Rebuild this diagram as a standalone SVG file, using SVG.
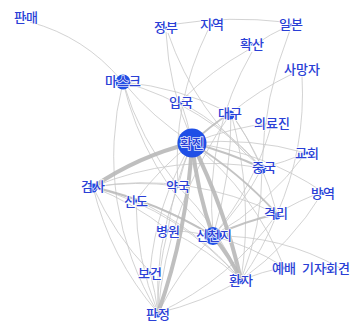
<svg xmlns="http://www.w3.org/2000/svg" width="353" height="327" viewBox="0 0 353 327">
<style>
.e{fill:none;stroke:#c8c8c8;stroke-width:1;stroke-opacity:.8}
.m{fill:none;stroke:#bdbdbd;stroke-width:2;stroke-opacity:.9}
.t{fill:none;stroke:#b8b8b8;stroke-width:4;stroke-opacity:.9}
.d{fill:#1f4fe6}
text{font-family:"Noto Sans CJK KR","Noto Sans",sans-serif;font-size:13px;font-weight:500;fill:#2a3fd6;text-anchor:middle;dominant-baseline:central;stroke:#fff;stroke-width:1.6;stroke-opacity:.85;paint-order:stroke}
</style>
<rect width="353" height="327" fill="#fff"/>
<g id="edges">
<path class="e" d="M30 22 A180 180 0 0 1 121 80"/>
<path class="e" d="M176 24 A400 400 0 0 1 284 22"/>
<path class="e" d="M286 27 A200 200 0 0 0 256 44"/>
<path class="e" d="M166 32 A300 300 0 0 0 192 140"/>
<path class="e" d="M168 33 A300 300 0 0 0 262 168"/>
<path class="e" d="M208 30 A300 300 0 0 0 178 185"/>
<path class="e" d="M248 50 A300 300 0 0 0 182 100"/>
<path class="e" d="M252 52 A300 300 0 0 0 213 232"/>
<path class="e" d="M290 30 A400 400 0 0 0 262 168"/>
<path class="e" d="M292 74 A300 300 0 0 0 231 113"/>
<path class="e" d="M302 76 A300 300 0 0 1 277 214"/>
<path class="e" d="M123 82 A300 300 0 0 0 192 143"/>
<path class="e" d="M123 82 A300 300 0 0 1 230 113"/>
<path class="e" d="M123 82 A300 300 0 0 0 178 186"/>
<path class="e" d="M123 82 A300 300 0 0 0 158 313"/>
<path class="e" d="M123 82 A300 300 0 0 0 213 236"/>
<path class="e" d="M181 102 A300 300 0 0 1 192 143"/>
<path class="e" d="M181 102 A300 300 0 0 1 262 168"/>
<path class="e" d="M231 113 A300 300 0 0 1 262 168"/>
<path class="e" d="M231 113 A400 400 0 0 1 213 236"/>
<path class="e" d="M231 113 A400 400 0 0 1 241 280"/>
<path class="e" d="M231 113 A400 400 0 0 0 158 313"/>
<path class="e" d="M231 113 A300 300 0 0 1 277 214"/>
<path class="e" d="M192 143 A300 300 0 0 1 272 123"/>
<path class="e" d="M192 143 A300 300 0 0 1 306 153"/>
<path class="e" d="M192 143 A300 300 0 0 1 323 192"/>
<path class="e" d="M192 143 A300 300 0 0 0 178 186"/>
<path class="e" d="M192 143 A300 300 0 0 0 168 230"/>
<path class="e" d="M192 143 A300 300 0 0 0 136 200"/>
<path class="e" d="M192 143 A300 300 0 0 0 150 272"/>
<path class="e" d="M192 143 A300 300 0 0 1 284 267"/>
<path class="e" d="M262 168 A300 300 0 0 0 306 153"/>
<path class="e" d="M262 168 A300 300 0 0 1 241 280"/>
<path class="e" d="M262 168 A300 300 0 0 0 93 187"/>
<path class="e" d="M262 168 A300 300 0 0 1 213 236"/>
<path class="e" d="M272 123 A300 300 0 0 1 213 236"/>
<path class="e" d="M306 153 A300 300 0 0 1 213 236"/>
<path class="e" d="M323 192 A200 200 0 0 0 277 214"/>
<path class="e" d="M323 192 A300 300 0 0 1 241 280"/>
<path class="e" d="M277 214 A300 300 0 0 1 241 280"/>
<path class="e" d="M277 214 A300 300 0 0 1 158 313"/>
<path class="e" d="M277 214 A300 300 0 0 0 93 187"/>
<path class="e" d="M213 236 A250 250 0 0 1 284 267"/>
<path class="e" d="M213 236 A250 250 0 0 1 340 268"/>
<path class="e" d="M213 236 A300 300 0 0 0 158 313"/>
<path class="e" d="M213 236 A300 300 0 0 0 168 230"/>
<path class="e" d="M213 236 A300 300 0 0 0 136 200"/>
<path class="e" d="M93 187 A300 300 0 0 1 136 200"/>
<path class="e" d="M93 187 A300 300 0 0 1 168 230"/>
<path class="e" d="M93 187 A300 300 0 0 0 150 272"/>
<path class="e" d="M93 187 A300 300 0 0 1 241 280"/>
<path class="e" d="M93 187 A300 300 0 0 1 178 186"/>
<path class="e" d="M93 187 A300 300 0 0 0 158 313"/>
<path class="e" d="M136 200 A300 300 0 0 1 241 280"/>
<path class="e" d="M136 200 A300 300 0 0 0 158 313"/>
<path class="e" d="M168 230 A300 300 0 0 1 241 280"/>
<path class="e" d="M168 230 A300 300 0 0 0 158 313"/>
<path class="e" d="M150 272 A300 300 0 0 1 158 313"/>
<path class="e" d="M178 186 A300 300 0 0 0 158 313"/>
<path class="e" d="M178 186 A300 300 0 0 1 241 280"/>
<path class="e" d="M241 280 A300 300 0 0 1 158 313"/>
<path class="e" d="M241 280 A300 300 0 0 1 284 267"/>
<path class="e" d="M123 82 A300 300 0 0 1 262 168"/>
<path class="m" d="M93 187 A400 400 0 0 1 213 236"/>
<path class="m" d="M192 143 A400 400 0 0 1 277 214"/>
<path class="m" d="M192 143 A400 400 0 0 1 262 168"/>
<path class="m" d="M192 143 A300 300 0 0 1 230 113"/>
<path class="m" d="M213 236 A300 300 0 0 1 277 214"/>
<path class="t" d="M93 187 A300 300 0 0 1 192 143"/>
<path class="t" d="M192 143 A600 600 0 0 1 158 313"/>
<path class="t" d="M192 143 A400 400 0 0 0 213 236"/>
<path class="t" d="M192 143 A600 600 0 0 1 241 280"/>
<path class="t" d="M213 236 A200 200 0 0 1 241 280"/>
</g>
<g id="n-panmae"><circle class="d" cx="26" cy="18" r="1.5"/><text x="26" y="16">판매</text></g>
<g id="n-jeongbu"><circle class="d" cx="166" cy="28" r="1.5"/><text x="166" y="26">정부</text></g>
<g id="n-jiyeok"><circle class="d" cx="212" cy="25" r="1.5"/><text x="212" y="23">지역</text></g>
<g id="n-ilbon"><circle class="d" cx="291" cy="25" r="1.5"/><text x="291" y="23">일본</text></g>
<g id="n-hwaksan"><circle class="d" cx="252" cy="44" r="1.5"/><text x="252" y="43">확산</text></g>
<g id="n-samangja"><circle class="d" cx="302" cy="69" r="1.5"/><text x="302" y="68">사망자</text></g>
<g id="n-mask"><circle class="d" cx="123" cy="82" r="7.5"/><text x="123" y="80">마스크</text></g>
<g id="n-ipguk"><circle class="d" cx="181" cy="103" r="1.5"/><text x="181" y="101">입국</text></g>
<g id="n-daegu"><circle class="d" cx="230" cy="115" r="4.5"/><text x="230" y="112">대구</text></g>
<g id="n-uiryojin"><circle class="d" cx="272" cy="123" r="1.5"/><text x="272" y="122">의료진</text></g>
<g id="n-hwakjin"><circle class="d" cx="192" cy="143" r="14.5"/><text x="192" y="142">확진</text></g>
<g id="n-gyohoe"><circle class="d" cx="307" cy="153" r="1.5"/><text x="307" y="152">교회</text></g>
<g id="n-jungguk"><circle class="d" cx="262" cy="169" r="4.5"/><text x="264" y="166">중국</text></g>
<g id="n-geomsa"><circle class="d" cx="93" cy="188" r="4.5"/><text x="93" y="185">검사</text></g>
<g id="n-yakguk"><circle class="d" cx="178" cy="186" r="1.5"/><text x="178" y="185">약국</text></g>
<g id="n-sindo"><circle class="d" cx="136" cy="201" r="1.5"/><text x="136" y="200">신도</text></g>
<g id="n-bangyeok"><circle class="d" cx="323" cy="193" r="2"/><text x="323" y="192">방역</text></g>
<g id="n-gyeokri"><circle class="d" cx="277" cy="216" r="3.5"/><text x="276" y="212">격리</text></g>
<g id="n-byeongwon"><circle class="d" cx="168" cy="231" r="1.5"/><text x="168" y="230">병원</text></g>
<g id="n-sincheonji"><circle class="d" cx="213" cy="236" r="9"/><text x="214" y="234">신천지</text></g>
<g id="n-yebae"><circle class="d" cx="284" cy="268" r="1.5"/><text x="284" y="267">예배</text></g>
<g id="n-gijahoegyeon"><circle class="d" cx="326" cy="268" r="1.5"/><text x="326" y="267">기자회견</text></g>
<g id="n-hwanja"><circle class="d" cx="240" cy="281" r="3"/><text x="241" y="279">환자</text></g>
<g id="n-bogeon"><circle class="d" cx="150" cy="273" r="1.5"/><text x="150" y="272">보건</text></g>
<g id="n-panjeong"><circle class="d" cx="158" cy="315" r="2.5"/><text x="158" y="313">판정</text></g>
</svg>
